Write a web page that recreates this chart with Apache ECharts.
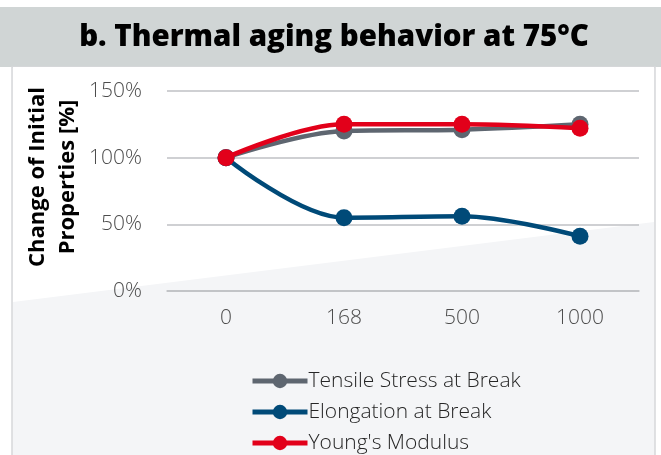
<!DOCTYPE html>
<html><head><meta charset="utf-8">
<script src="https://cdn.jsdelivr.net/npm/echarts@6/dist/echarts.min.js"></script>
<style>html,body{margin:0;padding:0;background:#fff}#c{width:661px;height:455px}</style>
</head><body><div id="c"></div>
<script>
const categories = ['0', '168', '500', '1000'];
const tensileStress = [100, 120, 121, 125];
const elongation = [100, 55, 56, 41];
const youngsModulus = [100, 125, 125, 122];
const seriesNames = ['Tensile Stress at Break', 'Elongation at Break', "Young's Modulus"];
const yTicks = { min: 0, max: 150, interval: 50 };

const colors = ['#5E6670', '#004A78', '#E2001A'];
const chart = echarts.init(document.getElementById('c'), null, { renderer: 'canvas' });
const W = 661, H = 455;
function mk(name, data, color, z) {
  return {
    name, type: 'line', data, smooth: 0.35, symbol: 'circle', symbolSize: 17, z,
    lineStyle: { width: 4.5, color }, itemStyle: { color }
  };
}
chart.setOption({
  animation: false,
  backgroundColor: '#ffffff',
  graphic: [
    { type: 'rect', z: -10, shape: { x: 0, y: 7, width: W, height: 60 }, style: { fill: '#D0D5D5' } },
    { type: 'rect', z: -10, shape: { x: 12, y: 67, width: 643, height: 400 }, style: { fill: '#F4F5F7', stroke: '#D6D8DA', lineWidth: 1.5 } },
    { type: 'polygon', z: -9, shape: { points: [[13, 302], [654, 222], [654, 67], [13, 67]] }, style: { fill: '#ffffff' } },
    { type: 'text', z: 5, x: 334, y: 38, style: { text: 'b. Thermal aging behavior at 75°C', font: '800 29.5px "Open Sans"', fill: '#000', align: 'center', verticalAlign: 'middle' } },
    { type: 'text', z: 5, x: 53, y: 177, rotation: Math.PI / 2, style: { text: 'Change of Initial\nProperties [%]', font: 'bold 22px "Open Sans"', lineHeight: 30, fill: '#000', align: 'center', verticalAlign: 'middle' } }
  ],
  grid: { left: 167, right: 22, top: 91, bottom: 164 },
  xAxis: {
    type: 'category', data: categories, boundaryGap: true,
    axisLine: { lineStyle: { color: '#BFC1C4', width: 1.5 } }, axisTick: { show: false },
    axisLabel: { color: '#4D4D4D', fontSize: 21, fontFamily: 'Open Sans', fontWeight: 300, margin: 17 }
  },
  yAxis: {
    type: 'value', min: yTicks.min, max: yTicks.max, interval: yTicks.interval,
    axisLine: { show: false }, axisTick: { show: false },
    splitLine: { lineStyle: { color: '#BFC1C4', width: 1.5 } },
    axisLabel: { color: '#4D4D4D', fontSize: 21, fontFamily: 'Open Sans', fontWeight: 300, margin: 25, formatter: v => v + '%' }
  },
  legend: {
    orient: 'vertical', left: 245, top: 363, height: 200, itemWidth: 55, itemHeight: 18, itemGap: 5,
    data: seriesNames,
    lineStyle: { width: 5 },
    textStyle: { color: '#262626', fontSize: 21, fontFamily: 'Open Sans', fontWeight: 300, lineHeight: 26, padding: [0, 0, 0, -4] }
  },
  series: [
    mk(seriesNames[0], tensileStress, colors[0], 2),
    mk(seriesNames[1], elongation, colors[1], 3),
    mk(seriesNames[2], youngsModulus, colors[2], 4)
  ]
});
</script></body></html>
